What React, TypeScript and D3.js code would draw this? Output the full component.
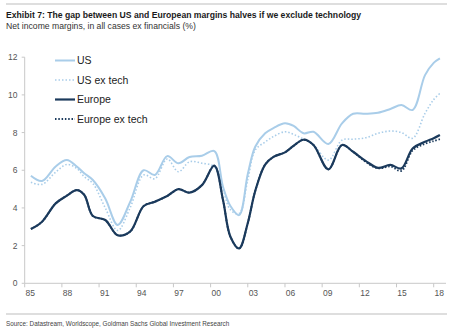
import React, { useRef, useLayoutEffect, useState } from "react";
import * as d3 from "d3";

const years = [1985.5, 1986.4, 1987.5, 1988.4, 1989.2, 1989.8, 1990.5, 1991.5, 1992.5, 1993.5, 1994.6, 1995.5, 1996.5, 1997.4, 1998.3, 1999.3, 2000.3, 2001.0, 2001.6, 2002.3, 2003.0, 2003.6, 2004.4, 2005.1, 2006.0, 2006.7, 2007.5, 2008.3, 2009.5, 2010.6, 2011.5, 2012.5, 2013.5, 2014.5, 2015.4, 2016.3, 2017.3, 2018.0, 2018.5];

const us = [5.71, 5.43, 6.2, 6.54, 6.2, 5.84, 5.48, 4.5, 3.1, 4.3, 6.0, 5.75, 6.75, 6.37, 6.7, 6.77, 7.02, 5.12, 4.1, 3.62, 5.8, 7.25, 7.96, 8.25, 8.49, 8.35, 7.96, 8.04, 7.39, 8.49, 9.0, 9.0, 9.05, 9.25, 9.46, 9.2, 11.05, 11.7, 11.94];
const usExTech = [5.36, 5.25, 5.9, 6.31, 6.1, 5.66, 5.3, 4.0, 2.8, 4.0, 5.75, 5.55, 6.6, 5.92, 6.45, 6.37, 6.19, 5.0, 3.9, 3.7, 5.5, 7.07, 7.5, 7.8, 8.04, 7.9, 7.65, 7.35, 6.54, 7.6, 7.65, 7.72, 7.96, 8.08, 8.0, 7.7, 9.02, 9.75, 10.08];
const europe = [2.88, 3.27, 4.24, 4.65, 4.95, 4.7, 3.57, 3.36, 2.55, 2.74, 4.1, 4.33, 4.63, 5.0, 4.81, 5.21, 6.24, 4.42, 2.47, 1.85, 3.2, 4.9, 6.3, 6.72, 6.95, 7.3, 7.62, 7.34, 6.05, 7.34, 6.98, 6.5, 6.13, 6.28, 6.1, 7.15, 7.51, 7.7, 7.87];
const europeExTech = [2.88, 3.27, 4.24, 4.65, 4.95, 4.7, 3.57, 3.36, 2.55, 2.74, 4.1, 4.33, 4.63, 5.0, 4.81, 5.21, 6.24, 4.42, 2.47, 1.85, 3.2, 4.9, 6.3, 6.72, 6.95, 7.3, 7.62, 7.34, 6.05, 7.34, 6.98, 6.45, 6.1, 6.2, 5.97, 7.05, 7.4, 7.55, 7.65];

const xTicks = [1985, 1988, 1991, 1994, 1997, 2000, 2003, 2006, 2009, 2012, 2015, 2018];
const xTickLabels = ["85", "88", "91", "94", "97", "00", "03", "06", "09", "12", "15", "18"];
const yTicks = [0, 2, 4, 6, 8, 10, 12];

const seriesNames = ["US", "US ex tech", "Europe", "Europe ex tech"];
const seriesValues = [us, usExTech, europe, europeExTech];
const seriesColors = ["#a9cde9", "#a9cde9", "#1b3a5c", "#1b3a5c"];
const seriesDash = [null, "1.5,2", null, "1.5,1.8"];
const seriesWidth = [2, 1.6, 2.2, 1.8];

const title = "Exhibit 7: The gap between US and European margins halves if we exclude technology";
const subtitle = "Net income margins, in all cases ex financials (%)";
const source = "Source: Datastream, Worldscope, Goldman Sachs Global Investment Research";

function FitText(props: { x: number; y: number; width: number; size: number; family: string; weight?: string; fill: string; text: string }) {
  const ref = useRef<SVGTextElement>(null);
  const [size, setSize] = useState(props.size);
  useLayoutEffect(() => {
    if (!ref.current) return;
    const w = ref.current.getComputedTextLength();
    if (w > 0) {
      const s = Math.min(props.size * 1.15, (props.size * props.width) / w);
      if (Math.abs(s - props.size) > 0.01) setSize(s);
    }
  }, []);
  return (
    <text ref={ref} x={props.x} y={props.y} fontFamily={props.family} fontWeight={props.weight} fontSize={size} fill={props.fill}>
      {props.text}
    </text>
  );
}

export default function App() {
  const W = 451, H = 330;
  const x = d3.scaleLinear().domain([1985, 2018]).range([24.7, 433.7]);
  const y = d3.scaleLinear().domain([0, 12]).range([283.3, 57.2]);
  const line = d3
    .line<number>()
    .x((_, i) => x(years[i]))
    .y((d) => y(d))
    .curve(d3.curveCatmullRom.alpha(0.5));
  const narrow = "'Liberation Sans Narrow', 'Arial Narrow', 'Liberation Sans', Arial, sans-serif";
  const sans = "'Liberation Sans', Arial, sans-serif";
  const axisColor = "#c8c8c8";
  const textColor = "#555";

  return (
    <svg width={W} height={H} style={{ position: "absolute", left: 0, top: 0, background: "#fff" }}>
      <line x1={6} x2={447} y1={4} y2={4} stroke="#bdbdbd" strokeWidth={1} />
      <FitText x={6} y={18.3} width={356} size={11.5} family={narrow} weight="bold" fill="#1a1a1a" text={title} />
      <FitText x={6} y={29.3} width={190} size={10} family={narrow} fill="#333" text={subtitle} />

      {/* axes */}
      <line x1={x(1985)} x2={x(1985)} y1={y(12)} y2={y(0)} stroke={axisColor} strokeWidth={1} />
      <line x1={x(1985)} x2={446} y1={y(0)} y2={y(0)} stroke={axisColor} strokeWidth={1} />
      {yTicks.map((t) => (
        <g key={"y" + t}>
          <line x1={x(1985) - 3} x2={x(1985)} y1={y(t)} y2={y(t)} stroke={axisColor} />
          <text x={17.5} y={y(t) + 3} textAnchor="end" fontFamily={sans} fontSize={8.5} fill={textColor}>
            {t}
          </text>
        </g>
      ))}
      {xTicks.map((t, i) => (
        <g key={"x" + t}>
          <line x1={x(t)} x2={x(t)} y1={y(0)} y2={y(0) + 4} stroke={axisColor} />
          <text x={x(t + 0.45)} y={296} textAnchor="middle" fontFamily={sans} fontSize={8.5} fill={textColor}>
            {xTickLabels[i]}
          </text>
        </g>
      ))}

      {/* series */}
      {seriesValues.map((vals, i) => (
        <path
          key={seriesNames[i]}
          d={line(vals) || ""}
          fill="none"
          stroke={seriesColors[i]}
          strokeWidth={seriesWidth[i]}
          strokeDasharray={seriesDash[i] || undefined}
          strokeLinejoin="round"
        />
      ))}

      {/* legend */}
      {seriesNames.map((name, i) => {
        const by = 64 + i * 19.5;
        return (
          <g key={"leg" + name}>
            <line x1={55} x2={75} y1={by - 3.5} y2={by - 3.5} stroke={seriesColors[i]} strokeWidth={seriesWidth[i]} strokeDasharray={seriesDash[i] || undefined} />
            <text x={77} y={by} fontFamily={sans} fontSize={10.5} fill="#222">
              {name}
            </text>
          </g>
        );
      })}

      <line x1={6} x2={447} y1={314} y2={314} stroke="#bdbdbd" strokeWidth={1} />
      <FitText x={6} y={326} width={224} size={8.5} family={narrow} fill="#444" text={source} />
    </svg>
  );
}
